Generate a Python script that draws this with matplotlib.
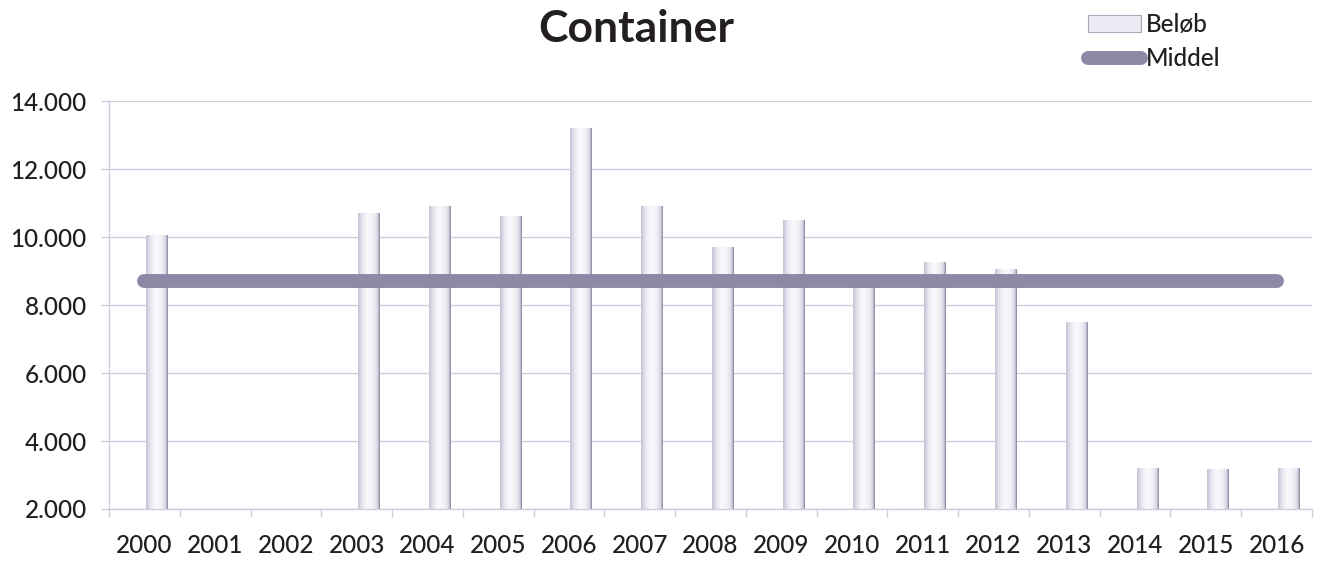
import numpy as np
import matplotlib.pyplot as plt
from matplotlib.colors import LinearSegmentedColormap
from matplotlib.patches import Patch
from matplotlib.lines import Line2D
from matplotlib.ticker import FuncFormatter, MultipleLocator

plt.rcParams['font.family'] = ['Lato', 'DejaVu Sans']

# values (2001 and 2002 have no bar)
years = [str(y) for y in range(2000, 2017)]
belob = [10050, np.nan, np.nan, 10700, 10900, 10600, 13200, 10900, 9700,
         10500, 8700, 9250, 9050, 7500, 3200, 3150, 3200]
middel = 8720

grid_col = '#cfcde0'
text_col = '#231f20'
line_col = '#8b89a6'
fs = 17.5

fig = plt.figure(figsize=(13.28, 5.62), dpi=100)
ax = fig.add_axes([109/1328, 1 - 509/562, (1312 - 109)/1328, (509 - 101)/562])

x = np.arange(len(years))
ymin, ymax = 2000, 14000

# cylinder-ish bars: invisible bar patches filled with a horizontal gradient
bars = ax.bar(x + 0.17, belob, width=0.3, color='none', edgecolor='none', zorder=2)
cyl = LinearSegmentedColormap.from_list(
    'cyl', [(0, '#c4c2d4'), (0.2, '#e8e7f0'), (0.45, '#fafafd'), (0.75, '#efeef5'),
            (0.92, '#d3d1e0'), (1, '#7f7d95')])
grad = np.linspace(0, 1, 64).reshape(1, -1)
for b in bars:
    h = b.get_height()
    if np.isnan(h):
        continue
    ax.imshow(grad, extent=[b.get_x(), b.get_x() + b.get_width(), ymin, h],
              aspect='auto', cmap=cyl, zorder=2, interpolation='bicubic')

ax.plot(x, [middel] * len(x), color=line_col, lw=10, solid_capstyle='round', zorder=3)

ax.set_xlim(-0.5, len(years) - 0.5)
ax.set_ylim(ymin, ymax)
ax.set_aspect('auto')

ax.yaxis.set_major_locator(MultipleLocator(2000))
ax.yaxis.set_major_formatter(FuncFormatter(lambda v, p: f'{v:,.0f}'.replace(',', '.')))
ax.grid(axis='y', color=grid_col, lw=1)
ax.set_axisbelow(True)

ax.set_xticks(x)
ax.set_xticklabels(years)
ax.set_xticks(np.arange(-0.5, len(years)), minor=True)
ax.tick_params(axis='x', which='major', length=0, pad=18, labelsize=fs, labelcolor=text_col)
ax.tick_params(axis='x', which='minor', length=6, color=grid_col, width=1)
ax.tick_params(axis='y', length=6, color=grid_col, width=1, pad=10, labelsize=fs,
               labelcolor=text_col)
for lab in ax.get_xticklabels() + ax.get_yticklabels():
    lab.set_fontweight('medium')

for s in ['top', 'right']:
    ax.spines[s].set_visible(False)
for s in ['left', 'bottom']:
    ax.spines[s].set_color(grid_col)
    ax.spines[s].set_linewidth(1)

fig.text(636/1328, 1 - 29/562, 'Container', ha='center', va='center',
         fontsize=32, fontweight='bold', color=text_col)

handles = [Patch(facecolor='#eceaf3', edgecolor='#a9a7bb', lw=0.8),
           Line2D([0], [0], color=line_col, lw=10, solid_capstyle='round')]
fig.legend(handles, ['Beløb', 'Middel'], loc='upper left',
           bbox_to_anchor=(1075/1328, 1.0), frameon=False,
           prop={'size': fs, 'weight': 'medium'},
           handlelength=2.15, handletextpad=0.2, labelspacing=0.45,
           borderaxespad=0.15, labelcolor=text_col)

fig.savefig('out.png', dpi=100)
